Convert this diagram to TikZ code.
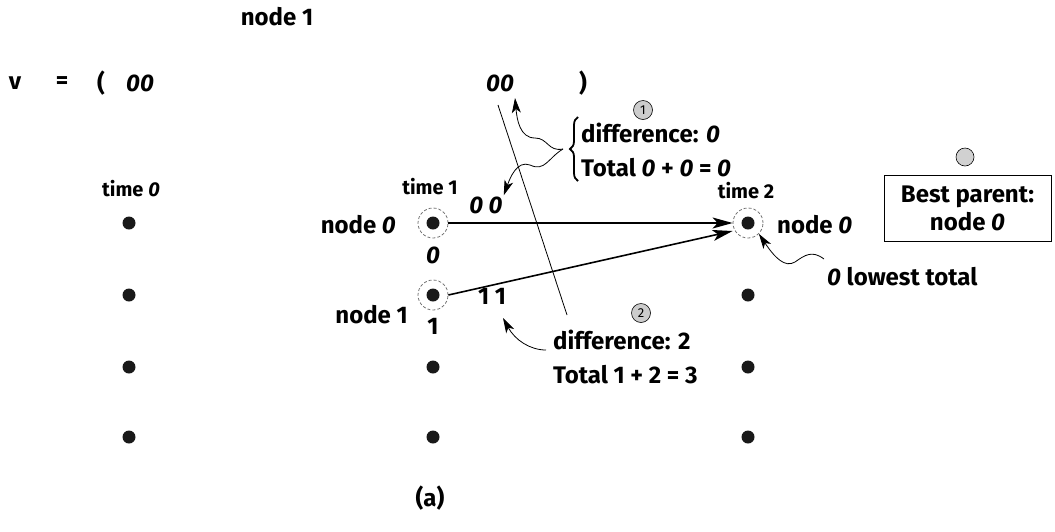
\documentclass[tikz,border=0pt]{standalone}
\usepackage{fontspec}
\setmainfont{Fira Sans}
\usetikzlibrary{arrows.meta,decorations.pathreplacing}
\begin{document}
\begin{tikzpicture}[x=1pt,y=-1pt,
  lbl/.style={inner sep=1pt,font=\fontsize{24}{26}\selectfont\bfseries},
  tlbl/.style={inner sep=1pt,font=\fontsize{20}{22}\selectfont\bfseries},
  dot/.style={circle,fill=black!90,inner sep=0pt,minimum size=13pt},
  ring/.style={circle,draw=black!55,dashed,dash pattern=on 3pt off 2pt,line width=0.8pt,minimum size=30pt,inner sep=0pt},
  badge/.style={circle,draw=black,line width=0.6pt,fill=black!20,inner sep=0pt,minimum size=19pt,font=\fontsize{13}{14}\selectfont},
  mainarrow/.style={line width=1.6pt,-{Stealth[length=20pt,width=11pt,inset=5pt]}},
  wavy/.style={line width=0.8pt,-{Stealth[length=15pt,width=9pt,inset=4pt]}}]
\useasboundingbox (0,0) rectangle (1055,531);

% top text
\node[lbl] (n1top) at (277,17) {node 1};
\node[lbl] (v) at (15,83) {v};
\node[lbl] (eq) at (62,83) {=};
\node[lbl] (lp) at (101,83) {(};
\node[lbl] (vz) at (140,83) {\textit{00}};
\node[lbl] (mz) at (500,83) {\textit{00}};
\node[lbl] (rp) at (583,83) {)};

% columns of dots
\foreach \i/\y in {0/223,1/295,2/367,3/437}{
  \node[dot] (a\i) at (129,\y) {};
  \node[dot] (b\i) at (433,\y) {};
  \node[dot] (c\i) at (748,\y) {};
}
\node[ring] (rb0) at (b0) {};
\node[ring] (rb1) at (b1) {};
\node[ring] (rc0) at (c0) {};

\node[tlbl] (t0) at (131,189) {time \textit{0}};
\node[tlbl] (t1) at (430,187) {time 1};
\node[tlbl] (t2) at (746,191) {time 2};

\node[lbl,anchor=east] (ln0) at (397,225) {node \textit{0}};
\node[lbl,anchor=east] (ln1) at (409,315) {node 1};
\node[lbl,anchor=west] (rn0) at (776,225) {node \textit{0}};
\node[lbl] (z0) at (433,255) {\textit{0}};
\node[lbl] (one) at (433,326) {1};
\node[lbl] (zz) at (486,205) {\textit{0 0}};
\node[lbl] (oo) at (492,296) {1 1};

% main arrows
\draw[mainarrow] (rb0.east) -- (rc0.west);
\draw[mainarrow] (rb1.east) -- (rc0.west |- 0,231);

% crossing line
\coordinate (ctop) at (498,105);
\coordinate (cbot) at (567,315);
\draw[line width=0.8pt] (ctop) -- (cbot);

% annotation 1
\node[badge] (bd1) at (643,110) {1};
\draw[decorate,decoration={brace,amplitude=8pt,mirror},line width=1.8pt]
  (578,117) coordinate (brt) -- (578,181) coordinate (brb);
\coordinate (brtip) at (563,149);
\node[lbl,anchor=west] (d1) at (580,133) {difference: \textit{0}};
\node[lbl,anchor=west] (tot1) at (580,168) {Total \textit{0} + \textit{0} = \textit{0}};
\coordinate (w1e) at (515,98);
\draw[wavy] (brtip) .. controls (548,152) and (548,138) .. (535,138)
  .. controls (520,138) and (517,120) .. (w1e);
\draw[wavy] (brtip) .. controls (548,158) and (545,172) .. (530,165)
  .. controls (517,160) and (510,178) .. (zz.north east);

% annotation 2
\node[badge] (bd2) at (641,313) {2};
\node[lbl,anchor=west] (d2) at (552,340) {difference: 2};
\node[lbl,anchor=west] (tot2) at (552,375) {Total 1 + 2 = 3};
\coordinate (w2s) at (546,350);
\coordinate (w2e) at (503,318);
\draw[wavy] (w2s) .. controls (530,350) and (515,340) .. (w2e);

% best parent
\node[circle,draw=black,line width=0.6pt,fill=black!18,minimum size=18pt,inner sep=0pt] (bg) at (965,157) {};
\node[draw=black,line width=0.8pt,minimum width=167pt,minimum height=66pt,align=center,inner sep=2pt,font=\fontsize{24}{28}\selectfont\bfseries] (bp) at (967.5,208) {Best parent:\\node \textit{0}};

% lowest total
\node[lbl,anchor=west] (lt) at (826,277) {\textit{0} lowest total};
\coordinate (w3s) at (824,259);
\draw[wavy] (w3s) .. controls (812,250) and (805,255) .. (795,262)
  .. controls (785,268) and (775,258) .. (rc0.south east);

\node[lbl] (cap) at (430,498) {(a)};
\end{tikzpicture}
\end{document}
